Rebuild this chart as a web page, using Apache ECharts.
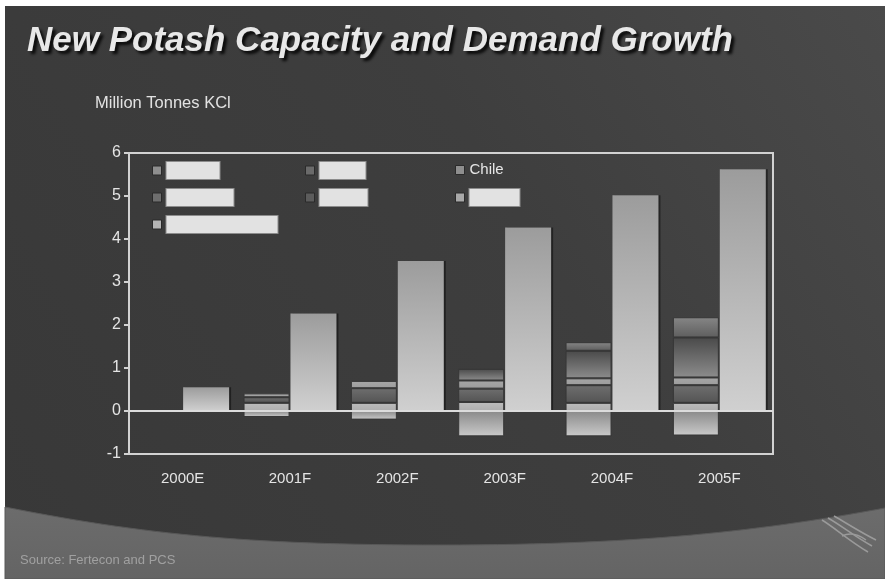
<!DOCTYPE html>
<html>
<head>
<meta charset="utf-8">
<script src="https://cdn.jsdelivr.net/npm/echarts@6/dist/echarts.min.js"></script>
<style>
  html, body { margin: 0; padding: 0; background: #ffffff; }
  #chart { width: 885px; height: 579px; }
</style>
</head>
<body>
<div id="chart"></div>
<script>
// Categories and series values (million tonnes KCl)
const years = ['2000E', '2001F', '2002F', '2003F', '2004F', '2005F'];
const capA = [null, 0.19, 0.19, 0.21, 0.19, 0.19];
const capB = [null, 0.13, 0.34, 0.31, 0.41, 0.41];
const chile = [null, 0.09, 0.17, 0.19, 0.16, 0.18];
const capD = [null, null, null, 0.27, 0.64, 0.93];
const capE = [null, null, null, null, 0.20, 0.47];
const closures = [null, -0.14, -0.20, -0.59, -0.59, -0.57];
const demand = [0.55, 2.27, 3.49, 4.27, 5.02, 5.62];

// Value axis range
const yMin = -1, yMax = 6, yStep = 1;

const FONT = 'Arial, "Liberation Sans", sans-serif';

function vgrad(top, bottom) {
  return { type: 'linear', x: 0, y: 0, x2: 0, y2: 1,
           colorStops: [{ offset: 0, color: top }, { offset: 1, color: bottom }] };
}

// Cubic bezier sampled into points, used for the curved footer band
function cubicPoints(p0, p1, p2, p3, n) {
  const pts = [];
  for (let i = 0; i <= n; i++) {
    const t = i / n, u = 1 - t;
    pts.push([
      u * u * u * p0[0] + 3 * u * u * t * p1[0] + 3 * u * t * t * p2[0] + t * t * t * p3[0],
      u * u * u * p0[1] + 3 * u * u * t * p1[1] + 3 * u * t * t * p2[1] + t * t * t * p3[1]
    ]);
  }
  return pts;
}
const bandEdge = cubicPoints([5, 507], [150, 536], [260, 545], [440, 545], 30)
  .concat(cubicPoints([440, 545], [640, 545], [760, 531], [885, 508], 30).slice(1));
const bandPoints = bandEdge.concat([[885, 579], [5, 579]]);

// Legend entries whose labels are covered by blank boxes
function boxLegend(name, left, top, width, marker) {
  return {
    data: [{ name: name, itemStyle: { color: marker, borderColor: '#2a2a2a', borderWidth: 1 } }],
    left: left, top: top, padding: 0, icon: 'rect', itemWidth: 9, itemHeight: 9,
    selectedMode: false,
    formatter: '{b| }',
    textStyle: { rich: { b: { width: width, height: 17, backgroundColor: '#e2e2e2',
                               borderColor: '#8c8c8c', borderWidth: 1 } } }
  };
}

const chart = echarts.init(document.getElementById('chart'), null, { renderer: 'canvas' });

const stackStyle = (c) => ({ color: c, borderColor: '#363636', borderWidth: 1 });

function emblemCurve(x1, y1, cx1, cy1, cx2, cy2, x2, y2) {
  return { type: 'bezierCurve', z: -18,
           shape: { x1: x1, y1: y1, cpx1: cx1, cpy1: cy1, cpx2: cx2, cpy2: cy2, x2: x2, y2: y2 },
           style: { fill: null, stroke: '#9a9a9a', lineWidth: 1.5 } };
}

const option = {
  animation: false,
  backgroundColor: '#ffffff',
  textStyle: { fontFamily: FONT },
  title: {
    text: 'New Potash Capacity and Demand Growth',
    left: 27, top: 24, padding: 0,
    textStyle: {
      fontFamily: FONT, fontSize: 35, fontStyle: 'italic', fontWeight: 'bold', color: '#e8e8e8',
      textShadowColor: 'rgba(0,0,0,0.85)', textShadowOffsetX: 3, textShadowOffsetY: 3, textShadowBlur: 3
    }
  },
  graphic: [
    // slide background
    { type: 'rect', z: -20, shape: { x: 5, y: 6, width: 880, height: 573 },
      style: { fill: { type: 'linear', x: 0, y: 1, x2: 1, y2: 0,
                       colorStops: [{ offset: 0, color: '#383838' }, { offset: 0.6, color: '#3e3e3e' },
                                    { offset: 1, color: '#4a4a4a' }] } } },
    // lighter curved band at the bottom
    { type: 'polygon', z: -19, shape: { points: bandPoints },
      style: { fill: vgrad('#6c6c6c', '#646464'), stroke: '#585858', lineWidth: 1 } },
    // emblem strokes, bottom right
    emblemCurve(822, 520, 835, 528, 848, 540, 868, 552),
    emblemCurve(828, 518, 842, 526, 854, 536, 872, 546),
    emblemCurve(834, 516, 848, 524, 860, 532, 876, 540),
    emblemCurve(842, 536, 850, 532, 858, 534, 866, 540),
    { type: 'text', z: 10, left: 95, top: 95,
      style: { text: 'Million Tonnes KCl', fontFamily: FONT, fontSize: 16.5, fill: '#e2e2e2' } },
    { type: 'text', z: 10, left: 20, top: 554,
      style: { text: 'Source: Fertecon and PCS', fontFamily: FONT, fontSize: 13, fill: '#a0a0a0' } }
  ],
  legend: [
    boxLegend('Capacity A', 152, 161, 53, '#8e8e8e'),
    boxLegend('Capacity B', 305, 161, 46, '#6a6a6a'),
    {
      data: [{ name: 'Chile', itemStyle: { color: '#8e8e8e', borderColor: '#2a2a2a', borderWidth: 1 } }],
      left: 455, top: 161, padding: 0, icon: 'rect', itemWidth: 9, itemHeight: 9, selectedMode: false,
      textStyle: { fontFamily: FONT, fontSize: 15, color: '#e6e6e6', lineHeight: 18 }
    },
    boxLegend('Capacity D', 152, 188, 67, '#6e6e6e'),
    boxLegend('Capacity E', 305, 188, 48, '#5c5c5c'),
    boxLegend('Closures', 455, 188, 50, '#a8a8a8'),
    boxLegend('Demand', 152, 215, 111, '#b4b4b4')
  ],
  grid: {
    left: 129, right: 112, top: 153, bottom: 125,
    show: true, borderColor: '#d2d2d2', borderWidth: 2, backgroundColor: 'transparent'
  },
  xAxis: {
    type: 'category', data: years,
    axisLine: { show: false, onZero: false }, axisTick: { show: false },
    axisLabel: { color: '#e4e4e4', fontSize: 15, fontFamily: FONT, margin: 17 }
  },
  yAxis: {
    type: 'value', min: yMin, max: yMax, interval: yStep,
    axisLine: { show: true, lineStyle: { color: '#d2d2d2', width: 2 } },
    axisTick: { show: true, length: 5, lineStyle: { color: '#d2d2d2', width: 2 } },
    splitLine: { show: false },
    axisLabel: { color: '#e4e4e4', fontSize: 16, fontFamily: FONT, margin: 8 }
  },
  series: [
    { name: 'Capacity A', type: 'bar', stack: 'cap', barWidth: 46, barGap: '2%', data: capA,
      itemStyle: stackStyle(vgrad('#bcbcbc', '#aeaeae')) },
    { name: 'Capacity B', type: 'bar', stack: 'cap', data: capB,
      itemStyle: stackStyle(vgrad('#6e6e6e', '#545454')) },
    { name: 'Chile', type: 'bar', stack: 'cap', data: chile,
      itemStyle: stackStyle(vgrad('#a6a6a6', '#9c9c9c')) },
    { name: 'Capacity D', type: 'bar', stack: 'cap', data: capD,
      itemStyle: stackStyle(vgrad('#4a4a4a', '#8c8c8c')) },
    { name: 'Capacity E', type: 'bar', stack: 'cap', data: capE,
      itemStyle: stackStyle(vgrad('#868686', '#5e5e5e')) },
    { name: 'Closures', type: 'bar', stack: 'cap', data: closures,
      itemStyle: stackStyle(vgrad('#8a8a8a', '#cacaca')) },
    { name: 'Demand', type: 'bar', barWidth: 46, data: demand, z: 3,
      itemStyle: { color: vgrad('#9c9c9c', '#d0d0d0'), shadowColor: 'rgba(0,0,0,0.45)',
                   shadowOffsetX: 2, shadowOffsetY: 0, shadowBlur: 0 },
      markLine: { silent: true, symbol: 'none', label: { show: false },
                  lineStyle: { color: '#dcdcdc', width: 2, type: 'solid' },
                  data: [{ yAxis: 0 }] } }
  ]
};

chart.setOption(option);
</script>
</body>
</html>
